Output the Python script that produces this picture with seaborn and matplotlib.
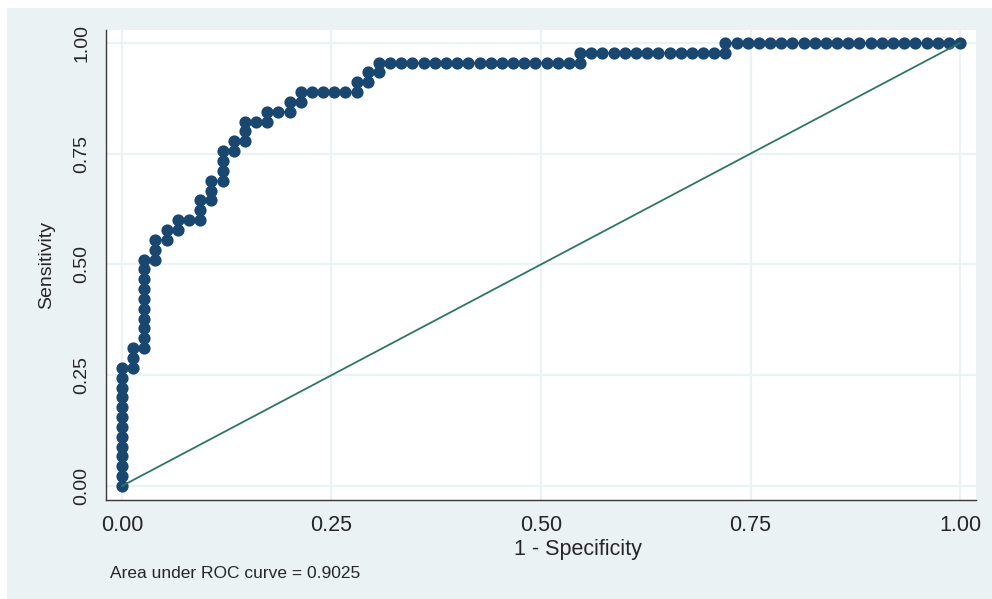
"""
ROC curve in the style of a Stata s2color graph
"""

import numpy as np
import pandas as pd
import matplotlib
matplotlib.use('Agg')
import matplotlib.pyplot as plt
import seaborn as sns
from matplotlib.patches import Rectangle

# Counts behind the curve
n_neg = 75
n_pos = 45

# cumulative false positives / true positives at each cutpoint
false_pos = [0, 0, 0, 0, 0, 0, 0, 0, 0, 0, 0, 0, 0,
             1, 1, 1,
             2, 2, 2, 2, 2, 2, 2, 2, 2, 2,
             3, 3, 3,
             4, 4,
             5, 5,
             6,
             7, 7, 7,
             8, 8, 8,
             9, 9, 9, 9,
             10, 10,
             11, 11, 11,
             12,
             13, 13,
             14,
             15, 15,
             16, 16,
             17, 18, 19, 20, 21,
             21,
             22, 22,
             23, 23,
             24, 25, 26, 27, 28, 29, 30, 31, 32, 33, 34, 35, 36, 37, 38, 39, 40, 41,
             41,
             42, 43, 44, 45, 46, 47, 48, 49, 50, 51, 52, 53, 54,
             54,
             55, 56, 57, 58, 59, 60, 61, 62, 63, 64, 65, 66, 67, 68, 69, 70, 71, 72, 73, 74, 75]

true_pos = [0, 1, 2, 3, 4, 5, 6, 7, 8, 9, 10, 11, 12,
            12, 13, 14,
            14, 15, 16, 17, 18, 19, 20, 21, 22, 23,
            23, 24, 25,
            25, 26,
            26, 27,
            27,
            27, 28, 29,
            29, 30, 31,
            31, 32, 33, 34,
            34, 35,
            35, 36, 37,
            37,
            37, 38,
            38,
            38, 39,
            39, 40,
            40, 40, 40, 40, 40,
            41,
            41, 42,
            42, 43,
            43, 43, 43, 43, 43, 43, 43, 43, 43, 43, 43, 43, 43, 43, 43, 43, 43, 43,
            44,
            44, 44, 44, 44, 44, 44, 44, 44, 44, 44, 44, 44, 44,
            45,
            45, 45, 45, 45, 45, 45, 45, 45, 45, 45, 45, 45, 45, 45, 45, 45, 45, 45, 45, 45, 45]

tick_values = [0, 0.25, 0.5, 0.75, 1.0]
tick_labels = ['0.00', '0.25', '0.50', '0.75', '1.00']
auc_label = 'Area under ROC curve = 0.9025'

roc = pd.DataFrame({
    'fpr': np.array(false_pos) / n_neg,
    'tpr': np.array(true_pos) / n_pos,
})
diag = pd.DataFrame({'x': [0.0, 1.0], 'y': [0.0, 1.0]})

sns.set_style('white')
plt.rcParams['font.family'] = ['Liberation Sans', 'DejaVu Sans']

bg = '#EAF2F3'
navy = '#1A476F'

fig = plt.figure(figsize=(9.92, 5.99), dpi=100, facecolor='white')
fig.patches.append(Rectangle((7 / 992, 0), 1, 1 - 8 / 599, transform=fig.transFigure,
                             facecolor=bg, edgecolor='none', zorder=-10))

ax = fig.add_axes([106 / 992, 99 / 599, 870 / 992, 470 / 599])
ax.set_facecolor('white')

sns.lineplot(data=roc, x='fpr', y='tpr', sort=False, estimator=None, color=navy,
             marker='o', markersize=8.8, markeredgewidth=0, linewidth=1.5, ax=ax, zorder=2)
sns.lineplot(data=diag, x='x', y='y', color='#2F7565', linewidth=1.3, ax=ax, zorder=3)

ax.set_xlim(-0.019, 1.019)
ax.set_ylim(-0.0316, 1.029)

ax.set_xticks(tick_values)
ax.set_xticklabels(tick_labels, fontsize=15.5)
ax.set_yticks(tick_values)
ax.set_yticklabels(tick_labels, fontsize=14, rotation=90, va='center')

ax.grid(True, color=bg, linewidth=1.6)
ax.set_axisbelow(True)

for side in ['top', 'right']:
    ax.spines[side].set_visible(False)
for side in ['left', 'bottom']:
    ax.spines[side].set_color('#3a3a3a')
    ax.spines[side].set_linewidth(1.0)

ax.tick_params(axis='both', direction='out', length=6.5, width=1, color='#3a3a3a')
ax.tick_params(axis='x', pad=4)
ax.tick_params(axis='y', pad=5)

ax.set_xlabel('1 - Specificity', fontsize=15.5, labelpad=0)
ax.xaxis.set_label_coords(0.5425, -0.082)
ax.set_ylabel('Sensitivity', fontsize=14)
ax.yaxis.set_label_coords(-0.058, 0.5)

fig.text(110 / 992, 1 - 573 / 599, auc_label, fontsize=12.5, va='center', ha='left')

fig.savefig('out.png', dpi=100)
